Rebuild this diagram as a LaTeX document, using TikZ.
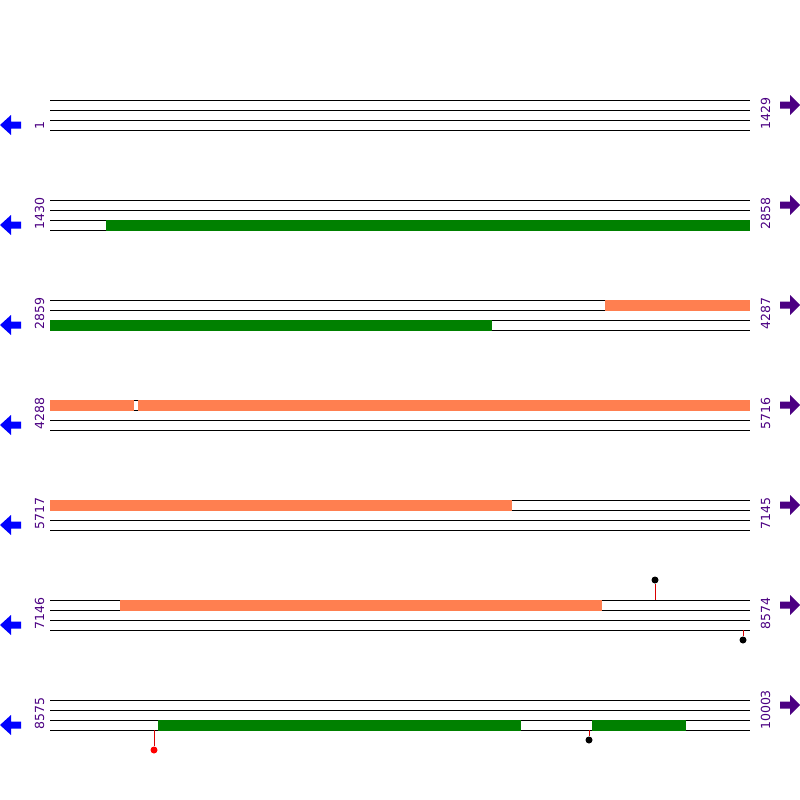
\documentclass[tikz,border=0pt]{standalone}
\usepackage{fontspec}
\setmainfont{DejaVu Sans}
\usetikzlibrary{positioning}
\definecolor{cdsgreen}{RGB}{0,128,0}
\definecolor{utrorange}{RGB}{255,127,80}
\definecolor{posviolet}{RGB}{75,0,130}
\definecolor{revblue}{RGB}{0,0,255}

\begin{document}
\begin{tikzpicture}[x=1pt,y=-1pt,
  strand/.style={black,line width=1pt},
  greenbar/.style={fill=cdsgreen},
  orangebar/.style={fill=utrorange},
  poslabel/.style={rotate=90,anchor=base west,inner sep=0pt,text=posviolet,font=\fontsize{12.5}{12.5}\selectfont},
  stick/.style={red!85!black,line width=1pt},
  knob/.style={circle,fill=black,inner sep=0pt,minimum size=7pt}]
  \useasboundingbox (0,0) rectangle (800,800);
  % seven rows, four strands each
  \foreach \k/\from/\to in {0/1/1429,1/1430/2858,2/2859/4287,3/4288/5716,4/5717/7145,5/7146/8574,6/8575/10003}{
    \foreach \s in {0,10,20,30}
      \draw[strand] (50,{100*\k+100+\s}) -- (750,{100*\k+100+\s});
    \node[poslabel] (from\k) at (44,{100*\k+130}) {\from};
    \node[poslabel] (to\k) at (770,{100*\k+130}) {\to};
    % reverse (left) and forward (right) arrows
    \fill[revblue] (0,{100*\k+125}) -- (11,{100*\k+115}) -- (11,{100*\k+121.5}) -- (21,{100*\k+121.5})
      -- (21,{100*\k+128.5}) -- (11,{100*\k+128.5}) -- (11,{100*\k+135}) -- cycle;
    \fill[posviolet] (800,{100*\k+105}) -- (790,{100*\k+95}) -- (790,{100*\k+101.5}) -- (780,{100*\k+101.5})
      -- (780,{100*\k+108.5}) -- (790,{100*\k+108.5}) -- (790,{100*\k+115}) -- cycle;
  }
  % features
  \fill[greenbar] (106,219.5) rectangle (750,230.5);
  \fill[orangebar] (605,299.5) rectangle (750,310.5);
  \fill[greenbar] (50,319.5) rectangle (492,330.5);
  \fill[orangebar] (50,399.5) rectangle (134,410.5);
  \fill[orangebar] (138,399.5) rectangle (750,410.5);
  \fill[orangebar] (50,499.5) rectangle (512,510.5);
  \fill[orangebar] (120,599.5) rectangle (602,610.5);
  \fill[greenbar] (158,719.5) rectangle (521,730.5);
  \fill[greenbar] (592,719.5) rectangle (686,730.5);
  % lollipops
  \node[knob] (snpA) at (655,580) {};
  \node[knob] (snpB) at (743,640) {};
  \node[knob,fill=red] (snpC) at (154,750) {};
  \node[knob] (snpD) at (589,740) {};
  \draw[stick] (655,600) -- (snpA);
  \draw[stick] (743,630) -- (snpB);
  \draw[stick] (154,730) -- (snpC);
  \draw[stick] (589,730) -- (snpD);
\end{tikzpicture}
\end{document}
